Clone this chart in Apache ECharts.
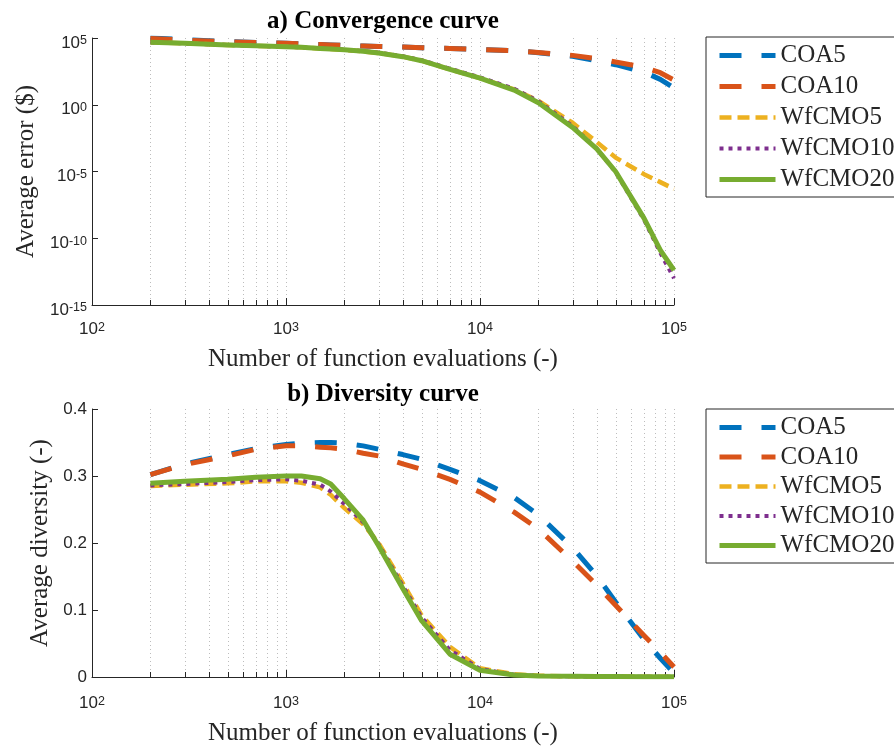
<!DOCTYPE html>
<html>
<head>
<meta charset="utf-8">
<script src="https://cdn.jsdelivr.net/npm/echarts@6/dist/echarts.min.js"></script>
<style>html,body{margin:0;padding:0;background:#fff}#c{width:894px;height:749px}</style>
</head>
<body>
<div id="c"></div>
<script>
// ---- data ----
const evals = [200,300,500,700,1000,1200,1500,1700,2000,2500,3000,4000,5000,7000,10000,15000,20000,30000,40000,50000,70000,85000,100000];

const errCOA5   = [1e5,7.6e4,5.5e4,4.7e4,4e4,3.6e4,3.2e4,3.0e4,2.8e4,2.5e4,2.3e4,2.1e4,1.9e4,1.66e4,1.4e4,1.1e4,8e3,4.2e3,2e3,1e3,280,80,18];
const errCOA10  = [9e4,7e4,5.2e4,4.6e4,4e4,3.6e4,3.2e4,3.0e4,2.8e4,2.5e4,2.3e4,2.1e4,1.9e4,1.66e4,1.4e4,1.1e4,8.3e3,5e3,2.8e3,1.6e3,630,250,70];
const errWfCMO5 = [4.8e4,4.0e4,3.0e4,2.6e4,2.2e4,2.0e4,1.66e4,1.5e4,1.3e4,1.0e4,7.6e3,4.0e3,2.0e3,450,100,14,2.0,4.5e-2,1.6e-3,1.1e-4,6.3e-6,1.6e-6,5e-7];
const errWfCMO10= [4.8e4,4.0e4,3.0e4,2.6e4,2.2e4,2.0e4,1.7e4,1.55e4,1.35e4,1.05e4,8e3,4.3e3,2.2e3,500,112,16,1.8,2.5e-2,5e-4,9e-6,2.5e-9,8e-12,1e-13];
const errWfCMO20= [4.8e4,4.0e4,3.0e4,2.6e4,2.2e4,2.0e4,1.66e4,1.5e4,1.3e4,1.0e4,7.6e3,4.0e3,2.0e3,450,100,12.6,1.4,2e-2,5e-4,1e-5,3.2e-9,1.3e-11,4e-13];

const divCOA5   = [0.302,0.318,0.332,0.341,0.347,0.349,0.350,0.350,0.349,0.345,0.340,0.332,0.325,0.310,0.293,0.268,0.242,0.193,0.151,0.112,0.056,0.028,0.006];
const divCOA10  = [0.302,0.317,0.330,0.340,0.345,0.345,0.343,0.342,0.340,0.334,0.330,0.318,0.310,0.295,0.276,0.246,0.221,0.173,0.137,0.107,0.062,0.037,0.015];
const divWfCMO5 = [0.285,0.287,0.289,0.292,0.292,0.290,0.283,0.272,0.252,0.228,0.200,0.140,0.092,0.045,0.013,0.004,0.002,0.001,0.0008,0.0006,0.0005,0.0005,0.0004];
const divWfCMO10= [0.286,0.288,0.291,0.294,0.295,0.293,0.287,0.277,0.258,0.231,0.198,0.136,0.089,0.040,0.012,0.0035,0.0017,0.001,0.0008,0.0006,0.0005,0.0005,0.0004];
const divWfCMO20= [0.289,0.292,0.295,0.298,0.300,0.300,0.296,0.288,0.266,0.234,0.196,0.132,0.084,0.034,0.010,0.003,0.0015,0.001,0.0008,0.0006,0.0005,0.0005,0.0004];

const seriesNames = ['COA5','COA10','WfCMO5','WfCMO10','WfCMO20'];
const xGridTicks = [200,300,400,500,600,700,800,900,1000,2000,3000,4000,5000,6000,7000,8000,9000,10000,20000,30000,40000,50000,60000,70000,80000,90000,100000];
const errTickExps = [-15,-10,-5,0,5];
const divTicks = [0,0.1,0.2,0.3,0.4];

// ---- styles ----
const colors = ['#0072BD','#D95319','#EDB120','#7E2F8E','#77AC30'];
const lineStyles = [
  {width:5, type:[22,20]},
  {width:5, type:[22,20]},
  {width:4.5, type:[12,6]},
  {width:4, type:[4,5]},
  {width:5, type:'solid'}
];
const AX = '#262626';
const SANS = 'Liberation Sans, Arial, sans-serif';
const SERIF = 'Liberation Serif, Times New Roman, serif';

const chart = echarts.init(document.getElementById('c'), null, {renderer:'canvas'});

function powLabel(v){
  const e = Math.round(Math.log10(v));
  return '{b|10}{s|' + e + '}';
}
const powRich = {
  b:{fontFamily:SANS, fontSize:17, color:AX, lineHeight:17, padding:[7,0,0,0], verticalAlign:'bottom'},
  s:{fontFamily:SANS, fontSize:12.5, color:AX, lineHeight:13, verticalAlign:'top'}
};

function gridRender(params, api){
  const v = api.value(0);
  const p = api.coord([v, api.value(1)]);
  const cs = params.coordSys;
  const x = Math.round(p[0]) + 0.5;
  const lg = Math.log10(v);
  const major = Math.abs(lg - Math.round(lg)) < 1e-9;
  const tl = major ? 7 : 5;
  const bottom = cs.y + cs.height;
  return {type:'group', children:[
    {type:'line', shape:{x1:x, y1:cs.y, x2:x, y2:bottom}, style:{stroke:'#bdbdbd', lineWidth:1, lineDash:[1,3]}},
    {type:'line', shape:{x1:x, y1:bottom, x2:x, y2:bottom-tl}, style:{stroke:AX, lineWidth:1}}
  ]};
}

const errData = [errCOA5, errCOA10, errWfCMO5, errWfCMO10, errWfCMO20];
const divData = [divCOA5, divCOA10, divWfCMO5, divWfCMO10, divWfCMO20];

const series = [
  {type:'custom', xAxisIndex:0, yAxisIndex:0, z:1, silent:true, renderItem:gridRender, data:xGridTicks.map(v=>[v,1])},
  {type:'custom', xAxisIndex:1, yAxisIndex:1, z:1, silent:true, renderItem:gridRender, data:xGridTicks.map(v=>[v,0.2])}
];
seriesNames.forEach((n,i)=>{
  series.push({name:n, type:'line', xAxisIndex:0, yAxisIndex:0, symbol:'none', showSymbol:false, z:2+i,
    data: evals.map((x,k)=>[x, errData[i][k]]),
    lineStyle:{color:colors[i], width:lineStyles[i].width, type:lineStyles[i].type, cap:'butt', join:'round'},
    itemStyle:{color:colors[i]}});
});
seriesNames.forEach((n,i)=>{
  series.push({name:n, type:'line', xAxisIndex:1, yAxisIndex:1, symbol:'none', showSymbol:false, z:2+i,
    data: evals.map((x,k)=>[x, divData[i][k]]),
    lineStyle:{color:colors[i], width:lineStyles[i].width, type:lineStyles[i].type, cap:'butt', join:'round'},
    itemStyle:{color:colors[i]}});
});

function xAxisCfg(gi, margin, gap){
  return {
    type:'log', logBase:10, gridIndex:gi, min:100, max:100000,
    name:'Number of function evaluations (-)', nameLocation:'middle', nameGap:gap,
    nameTextStyle:{fontFamily:SERIF, fontSize:25, color:AX},
    axisLine:{show:true, lineStyle:{color:AX, width:1}},
    axisTick:{show:false},
    splitLine:{show:false}, minorTick:{show:false}, minorSplitLine:{show:false},
    axisLabel:{formatter:powLabel, rich:powRich, margin:margin, color:AX}
  };
}

function legendCfg(top, gap){
  return {
    orient:'vertical', left:706, top:top,
    data:seriesNames.map((n,i)=>({
      name:n,
      itemStyle:{opacity:0},
      lineStyle:{color:colors[i], width:lineStyles[i].width, type:lineStyles[i].type, cap:'butt'}
    })),
    itemWidth:56, itemHeight:14, itemGap:gap,
    itemStyle:{opacity:0},
    padding:[6,40,5,11], borderColor:AX, borderWidth:1, backgroundColor:'#fff',
    selectedMode:false,
    textStyle:{fontFamily:SERIF, fontSize:25, color:AX}
  };
}

chart.setOption({
  animation:false,
  backgroundColor:'#fff',
  title:[
    {text:'a) Convergence curve', left:383, top:9, textAlign:'center', padding:0,
     textStyle:{fontFamily:SERIF, fontWeight:'bold', fontSize:25, color:'#000'}},
    {text:'b) Diversity curve', left:383, top:382, textAlign:'center', padding:0,
     textStyle:{fontFamily:SERIF, fontWeight:'bold', fontSize:25, color:'#000'}}
  ],
  legend:[legendCfg(37, 6), legendCfg(409, 4.5)],
  grid:[
    {left:92, top:38, width:582, height:267},
    {left:92, top:409, width:582, height:268}
  ],
  xAxis:[xAxisCfg(0, 16, 42), xAxisCfg(1, 18, 44)],
  yAxis:[
    {type:'log', logBase:10, gridIndex:0, min:Math.pow(10, errTickExps[0]), max:Math.pow(10, errTickExps[errTickExps.length-1]), interval:5,
     name:'Average error ($)', nameLocation:'middle', nameGap:53,
     nameTextStyle:{fontFamily:SERIF, fontSize:25, color:AX},
     axisLine:{show:true, lineStyle:{color:AX, width:1}},
     axisTick:{show:true, inside:true, length:6, lineStyle:{color:AX}},
     splitLine:{show:false},
     axisLabel:{formatter:powLabel, rich:powRich, margin:5, padding:[10,0,0,0], color:AX}},
    {type:'value', gridIndex:1, min:divTicks[0], max:divTicks[divTicks.length-1], interval:0.1,
     name:'Average diversity (-)', nameLocation:'middle', nameGap:37,
     nameTextStyle:{fontFamily:SERIF, fontSize:25, color:AX},
     axisLine:{show:true, lineStyle:{color:AX, width:1}},
     axisTick:{show:true, inside:true, length:6, lineStyle:{color:AX}},
     splitLine:{show:false},
     axisLabel:{fontFamily:SANS, fontSize:17, margin:5, color:AX}}
  ],
  series:series
});
</script>
</body>
</html>
